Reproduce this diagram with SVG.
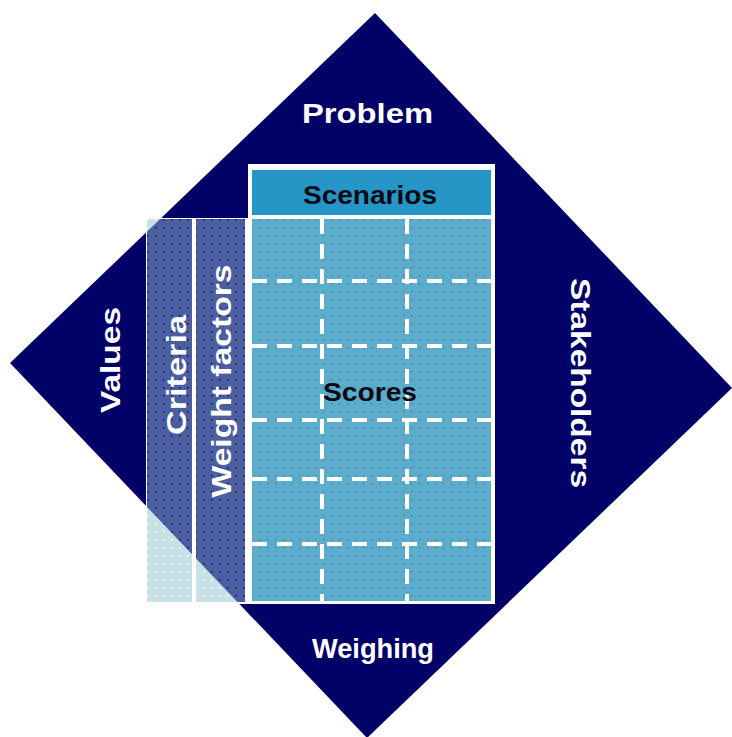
<svg xmlns="http://www.w3.org/2000/svg" width="732" height="737" viewBox="0 0 732 737">
  <style>
    .lbl { font-family: "Liberation Sans", Arial, sans-serif; font-weight: bold; font-size: 28px; fill: #ffffff; }
    .dark { font-family: "Liberation Sans", Arial, sans-serif; font-weight: bold; font-size: 26px; fill: #0a0a14; }
    .dash { stroke: #ffffff; stroke-width: 4; stroke-dasharray: 15 10; fill: none; }
  </style>
  <defs>
    <clipPath id="diamondClip">
      <polygon points="375,13 732,388 367,738 10,363"/>
    </clipPath>
    <pattern id="gridPat" width="8" height="8" patternUnits="userSpaceOnUse">
      <rect width="8" height="8" fill="#5daccb"/>
      <rect x="3" y="3" width="1.5" height="1.5" fill="#2f8fc2"/>
    </pattern>
    <pattern id="colPat" width="8" height="8" patternUnits="userSpaceOnUse">
      <rect width="8" height="8" fill="#4b5fa0"/>
      <rect x="3" y="3" width="1.5" height="1.5" fill="#10106e"/>
    </pattern>
    <pattern id="lightPat" width="8" height="8" patternUnits="userSpaceOnUse">
      <rect width="8" height="8" fill="#c8e1e7"/>
      <rect x="3" y="3" width="1.5" height="1.5" fill="#ffffff"/>
    </pattern>
  </defs>
  <rect width="732" height="737" fill="#ffffff"/>

  <g id="diamond">
    <polygon points="375,13 732,388 367,738 10,363" fill="#000066"/>
  </g>

  <g id="problem"><text class="lbl" x="367.5" y="123" text-anchor="middle" textLength="131" lengthAdjust="spacingAndGlyphs">Problem</text></g>
  <g id="weighing"><text class="lbl" x="373" y="658" text-anchor="middle" textLength="122" lengthAdjust="spacingAndGlyphs">Weighing</text></g>
  <g id="values"><text class="lbl" transform="translate(120,360) rotate(-90)" text-anchor="middle" textLength="106" lengthAdjust="spacingAndGlyphs">Values</text></g>
  <g id="stakeholders"><text class="lbl" transform="translate(571,383) rotate(90)" text-anchor="middle" textLength="210" lengthAdjust="spacingAndGlyphs">Stakeholders</text></g>

  <g id="frame">
    <rect x="248" y="164" width="247" height="440" fill="#ffffff"/>
    <rect x="146" y="218" width="104" height="386" fill="#ffffff"/>
  </g>

  <g id="criteria">
    <rect x="147" y="219" width="45" height="383" fill="url(#lightPat)"/>
    <rect x="147" y="219" width="45" height="383" fill="url(#colPat)" clip-path="url(#diamondClip)"/>
    <text class="lbl" transform="translate(186,375) rotate(-90)" text-anchor="middle" textLength="120" lengthAdjust="spacingAndGlyphs">Criteria</text>
  </g>

  <g id="weight-factors">
    <rect x="196" y="219" width="49" height="383" fill="url(#lightPat)"/>
    <rect x="196" y="219" width="49" height="383" fill="url(#colPat)" clip-path="url(#diamondClip)"/>
    <text class="lbl" transform="translate(231,381) rotate(-90)" text-anchor="middle" textLength="233" lengthAdjust="spacingAndGlyphs">Weight factors</text>
  </g>

  <g id="scenarios">
    <rect x="252" y="170" width="239" height="45" fill="#2596c6"/>
    <text class="dark" x="370" y="204" text-anchor="middle" textLength="134" lengthAdjust="spacingAndGlyphs">Scenarios</text>
  </g>

  <g id="scores">
    <rect x="252" y="219" width="239" height="382" fill="url(#gridPat)"/>
  </g>

  <g id="connectors">
    <line class="dash" x1="322" y1="219" x2="322" y2="601"/>
    <line class="dash" x1="407" y1="219" x2="407" y2="601"/>
    <line class="dash" x1="252" y1="281" x2="491" y2="281"/>
    <line class="dash" x1="252" y1="346" x2="491" y2="346"/>
    <line class="dash" x1="252" y1="420" x2="491" y2="420"/>
    <line class="dash" x1="252" y1="479" x2="491" y2="479"/>
    <line class="dash" x1="252" y1="544" x2="491" y2="544"/>
  </g>

  <g id="scores-label">
    <text class="dark" x="370" y="401" text-anchor="middle" textLength="94" lengthAdjust="spacingAndGlyphs">Scores</text>
  </g>
</svg>
